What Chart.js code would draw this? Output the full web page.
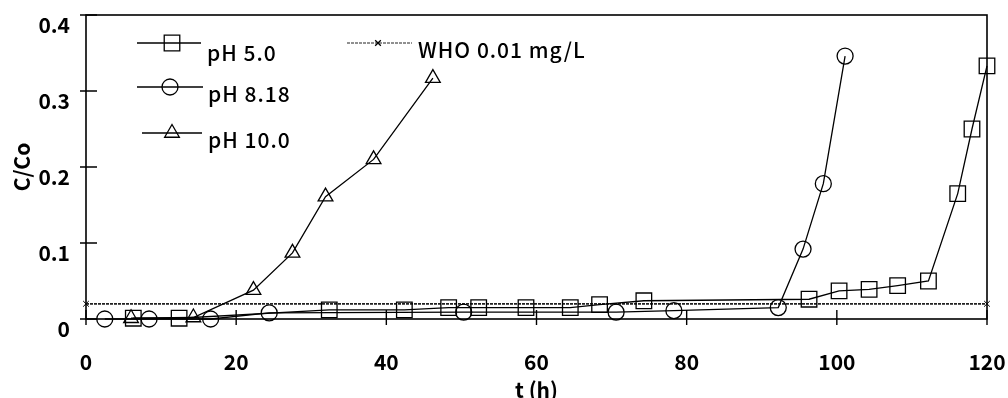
<!DOCTYPE html>
<html>
<head>
<meta charset="utf-8">
<script src="https://cdn.jsdelivr.net/npm/chart.js@4/dist/chart.umd.min.js"></script>
<style>
    body { margin: 0; background: #fff; }
    #wrap { width: 1008px; height: 398px; position: relative; }
</style>
</head>
<body>
<div id="wrap"><canvas id="breakthroughChart"></canvas></div>
<script>
// values: time (h) and C/Co
const ph50Hours = [6.3, 12.4, 32.4, 42.4, 48.3, 52.3, 58.6, 64.5, 68.4, 74.3, 96.3, 100.3, 104.3, 108.1, 112.2, 116.1, 118, 120];
const ph50Ratio = [0.001, 0.001, 0.012, 0.012, 0.015, 0.015, 0.015, 0.015, 0.019, 0.024, 0.026, 0.037, 0.039, 0.044, 0.05, 0.165, 0.25, 0.333];

const ph818Hours = [2.5, 8.4, 16.6, 24.4, 50.3, 70.6, 78.3, 92.2, 95.5, 98.2, 101.1];
const ph818Ratio = [0, 0, 0, 0.008, 0.009, 0.009, 0.011, 0.015, 0.092, 0.178, 0.346];

const ph100Hours = [6, 14.3, 22.3, 27.5, 31.9, 38.3, 46.2];
const ph100Ratio = [0.001, 0.002, 0.038, 0.087, 0.161, 0.21, 0.317];

const whoHours = [0, 120];
const whoRatio = [0.02, 0.02];

const seriesLabels = ['pH 5.0', 'pH 8.18', 'pH 10.0', 'WHO 0.01 mg/L'];
const xTicks = [0, 20, 40, 60, 80, 100, 120];
const yTicks = [0, 0.1, 0.2, 0.3, 0.4];

const FONT = "'Noto Sans CJK JP', 'Noto Sans', sans-serif";

function toPoints(xs, ys) {
    return xs.map((x, i) => ({ x: x, y: ys[i] }));
}

// keep the plot box where the original has it, labels may overhang
function fixBox(s, size) {
    if (s.isHorizontal()) s.height = size; else s.width = size;
    s.paddingLeft = 0;
    s.paddingRight = 0;
    s.paddingTop = 0;
    s.paddingBottom = 0;
}

const baseSet = {
    showLine: true,
    borderColor: '#000',
    borderWidth: 1.3,
    pointBorderColor: '#000',
    pointBackgroundColor: 'rgba(0,0,0,0)',
    pointBorderWidth: 1.3,
    clip: false
};

// frame + tick marks that cross the axis lines
const framePlugin = {
    id: 'frame',
    beforeDatasetsDraw(chart) {
        const { ctx, chartArea: a, scales } = chart;
        ctx.save();
        ctx.strokeStyle = '#000';
        ctx.lineWidth = 1.6;
        ctx.strokeRect(a.left, a.top, a.right - a.left, a.bottom - a.top);
        ctx.lineWidth = 1.4;
        ctx.beginPath();
        xTicks.forEach(v => {
            const px = scales.x.getPixelForValue(v);
            ctx.moveTo(px, a.bottom - 9);
            ctx.lineTo(px, a.bottom + 6);
        });
        yTicks.forEach(v => {
            const py = scales.y.getPixelForValue(v);
            ctx.moveTo(a.left - 6, py);
            ctx.lineTo(a.left + 11, py);
        });
        ctx.stroke();
        ctx.restore();
    }
};

// hand placed legend like the original (two columns inside the plot)
const legendSpots = [
    { x1: 137, x2: 201, y: 43, mx: 172, tx: 207, ty: 61 },
    { x1: 137, x2: 203, y: 87, mx: 170, tx: 208, ty: 102 },
    { x1: 142, x2: 202, y: 133, mx: 172, tx: 208, ty: 148 },
    { x1: 347, x2: 412, y: 43, mx: 378, tx: 418, ty: 58 }
];

const legendPlugin = {
    id: 'cornerLegend',
    afterDraw(chart) {
        const { ctx } = chart;
        ctx.save();
        chart.data.datasets.forEach((ds, i) => {
            const s = legendSpots[i];
            ctx.strokeStyle = ds.borderColor;
            ctx.lineWidth = i === 3 ? 1.2 : 1.3;
            ctx.setLineDash(ds.borderDash || []);
            ctx.beginPath();
            ctx.moveTo(s.x1, s.y);
            ctx.lineTo(s.x2, s.y);
            ctx.stroke();
            ctx.setLineDash([]);
            ctx.fillStyle = 'rgba(0,0,0,0)';
            ctx.strokeStyle = '#000';
            ctx.lineWidth = 1.3;
            Chart.helpers.drawPoint(ctx, {
                pointStyle: ds.pointStyle,
                radius: ds.pointRadius,
                rotation: 0,
                borderWidth: 1.3
            }, s.mx, s.y);
            ctx.fillStyle = '#000';
            ctx.font = `500 21px ${FONT}`;
            ctx.letterSpacing = '1px';
            ctx.textAlign = 'left';
            ctx.textBaseline = 'alphabetic';
            ctx.fillText(ds.label, s.tx, s.ty);
        });
        ctx.restore();
    }
};

const ctxChart = document.getElementById('breakthroughChart');
new Chart(ctxChart, {
    type: 'scatter',
    data: {
        datasets: [
            Object.assign({}, baseSet, {
                label: seriesLabels[0],
                data: toPoints(ph50Hours, ph50Ratio),
                pointStyle: 'rect',
                pointRadius: 11
            }),
            Object.assign({}, baseSet, {
                label: seriesLabels[1],
                data: toPoints(ph818Hours, ph818Ratio),
                pointStyle: 'circle',
                pointRadius: 8
            }),
            Object.assign({}, baseSet, {
                label: seriesLabels[2],
                data: toPoints(ph100Hours, ph100Ratio),
                pointStyle: 'triangle',
                pointRadius: 8.5
            }),
            Object.assign({}, baseSet, {
                label: seriesLabels[3],
                data: toPoints(whoHours, whoRatio),
                borderColor: '#222',
                borderWidth: 1.8,
                borderDash: [3, 1],
                pointStyle: 'crossRot',
                pointRadius: 4,
                pointBorderWidth: 1
            })
        ]
    },
    options: {
        responsive: true,
        maintainAspectRatio: false,
        animation: false,
        events: [],
        layout: { padding: { top: 15, right: 21, left: 0, bottom: 0 } },
        plugins: {
            legend: { display: false },
            tooltip: { enabled: false }
        },
        scales: {
            x: {
                type: 'linear',
                min: 0,
                max: 120,
                afterFit: s => fixBox(s, 79),
                afterBuildTicks: s => { s.ticks = xTicks.map(v => ({ value: v })); },
                grid: { display: false, drawTicks: false },
                border: { display: false },
                ticks: {
                    color: '#000',
                    padding: 30,
                    maxRotation: 0,
                    font: { family: FONT, size: 21, weight: 'bold' }
                },
                title: {
                    display: true,
                    text: 't (h)',
                    color: '#000',
                    padding: { top: 0, bottom: 0 },
                    font: { family: FONT, size: 21, weight: 'bold', lineHeight: 0.8 }
                }
            },
            y: {
                type: 'linear',
                min: 0,
                max: 0.4,
                afterFit: s => fixBox(s, 86),
                afterBuildTicks: s => { s.ticks = yTicks.map(v => ({ value: v })); },
                grid: { display: false, drawTicks: false },
                border: { display: false },
                ticks: {
                    color: '#000',
                    padding: 16,
                    labelOffset: 10,
                    font: { family: FONT, size: 21, weight: 'bold' }
                },
                title: {
                    display: true,
                    text: 'C/Co',
                    color: '#000',
                    padding: { top: 12, bottom: 0 },
                    font: { family: FONT, size: 21, weight: 'bold', lineHeight: 1 }
                }
            }
        }
    },
    plugins: [framePlugin, legendPlugin]
});
</script>
</body>
</html>
